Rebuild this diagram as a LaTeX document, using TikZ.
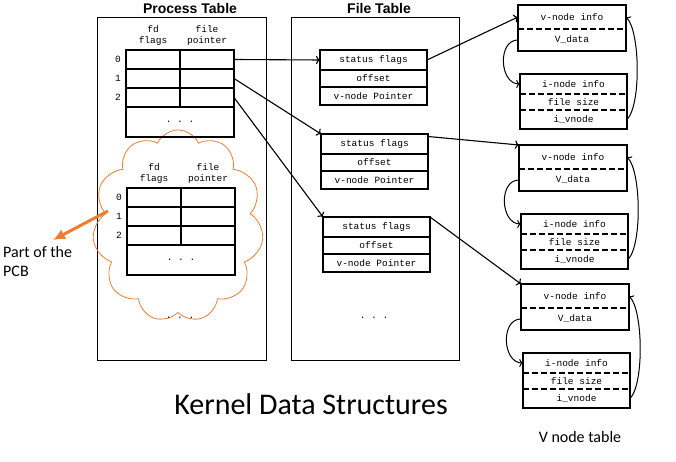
\documentclass[tikz,border=0pt]{standalone}
\usepackage{fontspec}
\setmainfont{Carlito}
\setmonofont{Liberation Mono}
\newfontfamily\arialfont{Liberation Sans}
\usetikzlibrary{arrows}
\usetikzlibrary{arrows.meta}
\usetikzlibrary{positioning}
\usetikzlibrary{shapes.symbols}
\definecolor{pcborange}{RGB}{237,125,49}
\tikzset{
	mono/.style={font=\ttfamily\fontsize{9.5}{11}\selectfont},
	cell/.style={mono, draw, line width=1.4pt, anchor=north west, inner sep=0pt, outer sep=0pt, minimum width=54pt, minimum height=19pt},
	row/.style={mono, anchor=north west, inner sep=0pt, outer sep=0pt},
	boxline/.style={line width=1.4pt},
	dashline/.style={line width=1.4pt, dash pattern=on 6pt off 3pt},
	pics/fdtable/.style={
		code = {
			\foreach \r in {0,1,2} {
				\node[cell] (-f\r) at (0, 19*\r) {};
				\node[cell] (-p\r) at (54, 19*\r) {};
				\node[mono, inner sep=0pt, left=5pt] at (-f\r.west) {\r};
			}
			\node[cell, minimum width=108pt, minimum height=30pt] (-more) at (0, 57) {. . .};
			\node[mono, align=center, inner sep=0pt, anchor=south] at (27, -4) {fd\\flags};
			\node[mono, align=center, inner sep=0pt, anchor=south] at (81, -4) {file\\pointer};
		}
	},
	pics/fentry/.style={
		code = {
			\node[cell, minimum width=107pt, minimum height=20pt] (-s) at (0, 0) {status flags};
			\node[cell, minimum width=107pt, minimum height=17pt] (-o) at (0, 20) {offset};
			\node[cell, minimum width=107pt, minimum height=18pt] (-v) at (0, 37) {v-node Pointer};
		}
	},
	pics/vnode/.style={
		code = {
			\node[row, minimum width=108pt, minimum height=24pt] (-vi) at (0, 0) {v-node info};
			\node[row, minimum width=108pt, minimum height=22pt] (-vd) at (0, 24) {V\_data};
			\draw[boxline] (-vi.north west) rectangle (-vd.south east);
			\draw[dashline] (-vi.south west) -- (-vi.south east);
			\node[row, minimum width=107pt, minimum height=20pt] (-ii) at (2, 69) {i-node info};
			\node[row, minimum width=107pt, minimum height=16pt] (-is) at (2, 89) {file size};
			\node[row, minimum width=107pt, minimum height=19pt] (-iv) at (2, 105) {i\_vnode};
			\draw[boxline] (-ii.north west) rectangle (-iv.south east);
			\draw[dashline] (-ii.south west) -- (-ii.south east);
			\draw[dashline] (-is.south west) -- (-is.south east);
			\draw[->, line width=1pt] (-vd.west) to[out=180, in=180, looseness=1.2] (-ii.west);
			\draw[->, line width=1pt] (-iv.east) to[out=45, in=-45, looseness=0.5] (-vi.east);
		}
	}
}

\begin{document}
\begin{tikzpicture}[x=1pt, y=-1pt, conn/.style={->, line width=1.1pt}, title/.style={font=\arialfont\bfseries\fontsize{14}{16}\selectfont, inner sep=0pt}]

	\useasboundingbox (0, 0) rectangle (676, 462);

	% tables
	\node[draw, line width=1.2pt, anchor=north west, minimum width=169pt, minimum height=343pt, inner sep=0pt] (proctab) at (97, 17) {};
	\node[draw, line width=1.2pt, anchor=north west, minimum width=168pt, minimum height=343pt, inner sep=0pt] (filetab) at (291, 17) {};
	\node[title] (proctitle) at (190, 8) {Process Table};
	\node[title] (filetitle) at (379, 8) {File Table};

	\node[cloud, draw=pcborange, line width=0.8pt, cloud puffs=11, cloud puff arc=130, minimum width=171pt, minimum height=192pt, inner sep=0pt] (pcbcloud) at (178, 226) {};

	\pic (pt1) at (126, 50) {fdtable};
	\pic (pt2) at (127, 188) {fdtable};
	\node[mono] (ptdots) at (180, 318) {. . .};

	\pic (fe1) at (320, 50) {fentry};
	\pic (fe2) at (321, 134) {fentry};
	\pic (fe3) at (323, 217) {fentry};
	\node[mono] (ftdots) at (374, 318) {. . .};

	\pic (vn1) at (518, 5) {vnode};
	\pic (vn2) at (519, 145) {vnode};
	\pic (vn3) at (521, 284) {vnode};

	% pointers
	\draw[conn] (pt1-p0.east) -- (fe1-s.west);
	\draw[conn] (pt1-p1.east) -- (fe2-s.north west);
	\draw[conn] (pt1-p2.east) -- (fe3-s.north west);

	\draw[conn] (fe1-s.east) -- (vn1-vi.west);
	\draw[conn] (fe2-s.8) -- (vn2-vi.north west);
	\draw[conn] (fe3-s.north east) -- (vn3-vi.north west);

	% labels
	\node[align=left, anchor=north west, inner sep=0pt, font=\fontsize{16}{19}\selectfont] (pcb) at (3, 246) {Part of the\\PCB};
	\coordinate (pcbtail) at (108, 211);
	\coordinate (pcbtip) at (53, 240);
	\draw[-{Latex[length=12pt, width=11pt]}, draw=pcborange, fill=pcborange, line width=3pt] (pcbtail) -- (pcbtip);

	\node[inner sep=0pt, font=\fontsize{30}{34}\selectfont] (kernel) at (311, 404) {Kernel Data Structures};
	\node[inner sep=0pt, font=\fontsize{16}{19}\selectfont] (vtable) at (580, 437) {V node table};

\end{tikzpicture}
\end{document}
